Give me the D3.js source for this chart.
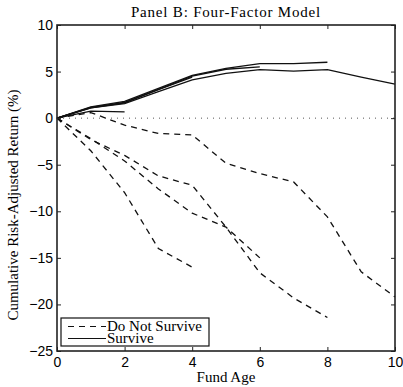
<!DOCTYPE html>
<html>
<head>
<meta charset="utf-8">
<script src="https://cdn.jsdelivr.net/npm/d3@7"></script>
<style>
  body { margin: 0; background: #fff; }
</style>
</head>
<body>
<div id="plot"></div>
<script>
// fund age (years)
const ages = [0, 1, 2, 3, 4, 5, 6, 7, 8, 9, 10];

// Survive cohorts (solid)
const survive2  = [0, 0.75, 0.68];
const survive4  = [0, 1.1, 1.65, 3.05, 4.4];
const survive6  = [0, 1.15, 1.7, 3.1, 4.5, 5.25, 5.5];
const survive8  = [0, 1.2, 1.8, 3.2, 4.6, 5.35, 5.85, 5.85, 6.0];
const survive10 = [0, 1.1, 1.55, 2.85, 4.1, 4.8, 5.2, 5.05, 5.2, 4.4, 3.65];

// Do Not Survive cohorts (dashed)
const dead4  = [0, -3.5, -8.0, -14.0, -16.0];
const dead6  = [0, -2.2, -4.6, -7.6, -10.2, -11.7, -15.0];
const dead8  = [0, -2.3, -4.0, -6.2, -7.2, -11.7, -16.6, -19.3, -21.4];
const dead10 = [0, 0.6, -0.75, -1.65, -1.8, -4.85, -5.95, -6.85, -10.6, -16.5, -19.2];

const xTicks = [0, 2, 4, 6, 8, 10];
const yTicks = [-25, -20, -15, -10, -5, 0, 5, 10];

let width = 403,
    height = 387;

let margin = { top: 25, bottom: 36, left: 57, right: 8 };

let svg = d3.select('#plot')
  .append('svg')
    .attr('width', width)
    .attr('height', height)
    .style('background', '#FFFFFF');

let xScale = d3.scaleLinear()
  .domain([0, 10])
  .range([margin.left, width - margin.right]);

let yScale = d3.scaleLinear()
  .domain([-25, 10])
  .range([height - margin.bottom, margin.top]);

// zero reference line
svg.append('line')
  .attr('x1', xScale(0)).attr('x2', xScale(10))
  .attr('y1', yScale(0)).attr('y2', yScale(0))
  .attr('stroke', '#555')
  .attr('stroke-width', 1)
  .attr('stroke-dasharray', '1,5');

let line = d3.line()
  .x((d, i) => xScale(ages[i]))
  .y(d => yScale(d));

const solidSeries = [survive2, survive4, survive6, survive8, survive10];
const dashSeries = [dead4, dead6, dead8, dead10];

svg.selectAll('path.surv')
  .data(solidSeries)
  .enter()
  .append('path')
    .attr('class', 'surv')
    .attr('d', line)
    .attr('fill', 'none')
    .attr('stroke', '#111')
    .attr('stroke-width', 1.3);

svg.selectAll('path.dead')
  .data(dashSeries)
  .enter()
  .append('path')
    .attr('class', 'dead')
    .attr('d', line)
    .attr('fill', 'none')
    .attr('stroke', '#111')
    .attr('stroke-width', 1.3)
    .attr('stroke-dasharray', '6,5');

// axes, ticks inside on all sides
const tickFont = '"Liberation Sans", Arial, sans-serif';

let xAxis = svg.append('g')
  .attr('transform', `translate(0,${height - margin.bottom})`)
  .call(d3.axisBottom(xScale).tickValues(xTicks).tickSizeInner(-4).tickSizeOuter(0).tickPadding(6));

let xTop = svg.append('g')
  .attr('transform', `translate(0,${margin.top})`)
  .call(d3.axisTop(xScale).tickValues(xTicks).tickSizeInner(-4).tickSizeOuter(0).tickFormat(''));

let yAxis = svg.append('g')
  .attr('transform', `translate(${margin.left},0)`)
  .call(d3.axisLeft(yScale).tickValues(yTicks).tickSizeInner(-4).tickSizeOuter(0).tickPadding(4)
    .tickFormat(d => d < 0 ? '\u2212' + Math.abs(d) : d));

let yRight = svg.append('g')
  .attr('transform', `translate(${width - margin.right},0)`)
  .call(d3.axisRight(yScale).tickValues(yTicks).tickSizeInner(-4).tickSizeOuter(0).tickFormat(''));

[xAxis, xTop, yAxis, yRight].forEach(g => {
  g.select('.domain').remove();
  g.selectAll('line').attr('stroke', '#222');
  g.selectAll('text')
    .attr('fill', '#000')
    .attr('font-size', '14px')
    .attr('font-family', tickFont);
});

// frame
svg.append('rect')
  .attr('x', xScale(0)).attr('y', yScale(10))
  .attr('width', xScale(10) - xScale(0))
  .attr('height', yScale(-25) - yScale(10))
  .attr('fill', 'none')
  .attr('stroke', '#222')
  .attr('stroke-width', 1.6);

const serif = '"Liberation Serif", "Times New Roman", serif';

// title
svg.append('text')
  .attr('x', (xScale(0) + xScale(10)) / 2)
  .attr('y', 17)
  .attr('text-anchor', 'middle')
  .attr('font-family', serif)
  .attr('font-size', '15px')
  .attr('letter-spacing', '0.8px')
  .text('Panel B: Four-Factor Model');

// axis labels
svg.append('text')
  .attr('x', (xScale(0) + xScale(10)) / 2)
  .attr('y', 382)
  .attr('text-anchor', 'middle')
  .attr('font-family', serif)
  .attr('font-size', '15px')
  .text('Fund Age');

svg.append('text')
  .attr('transform', 'translate(18,205) rotate(-90)')
  .attr('text-anchor', 'middle')
  .attr('font-family', serif)
  .attr('font-size', '15px')
  .text('Cumulative Risk-Adjusted Return (%)');

// legend
let legend = svg.append('g').attr('transform', 'translate(61,318)');

legend.append('rect')
  .attr('width', 148).attr('height', 28)
  .attr('fill', '#fff')
  .attr('stroke', '#111')
  .attr('stroke-width', 1.2);

const legendItems = [
  { label: 'Do Not Survive', dash: '6,5' },
  { label: 'Survive', dash: null }
];

legendItems.forEach((item, i) => {
  legend.append('line')
    .attr('x1', 7).attr('x2', 45)
    .attr('y1', 8.5 + i * 12).attr('y2', 8.5 + i * 12)
    .attr('stroke', '#111')
    .attr('stroke-width', 1.2)
    .attr('stroke-dasharray', item.dash);
  legend.append('text')
    .attr('x', 46)
    .attr('y', 13 + i * 12)
    .attr('font-family', serif)
    .attr('font-size', '15px')
    .text(item.label);
});
</script>
</body>
</html>
